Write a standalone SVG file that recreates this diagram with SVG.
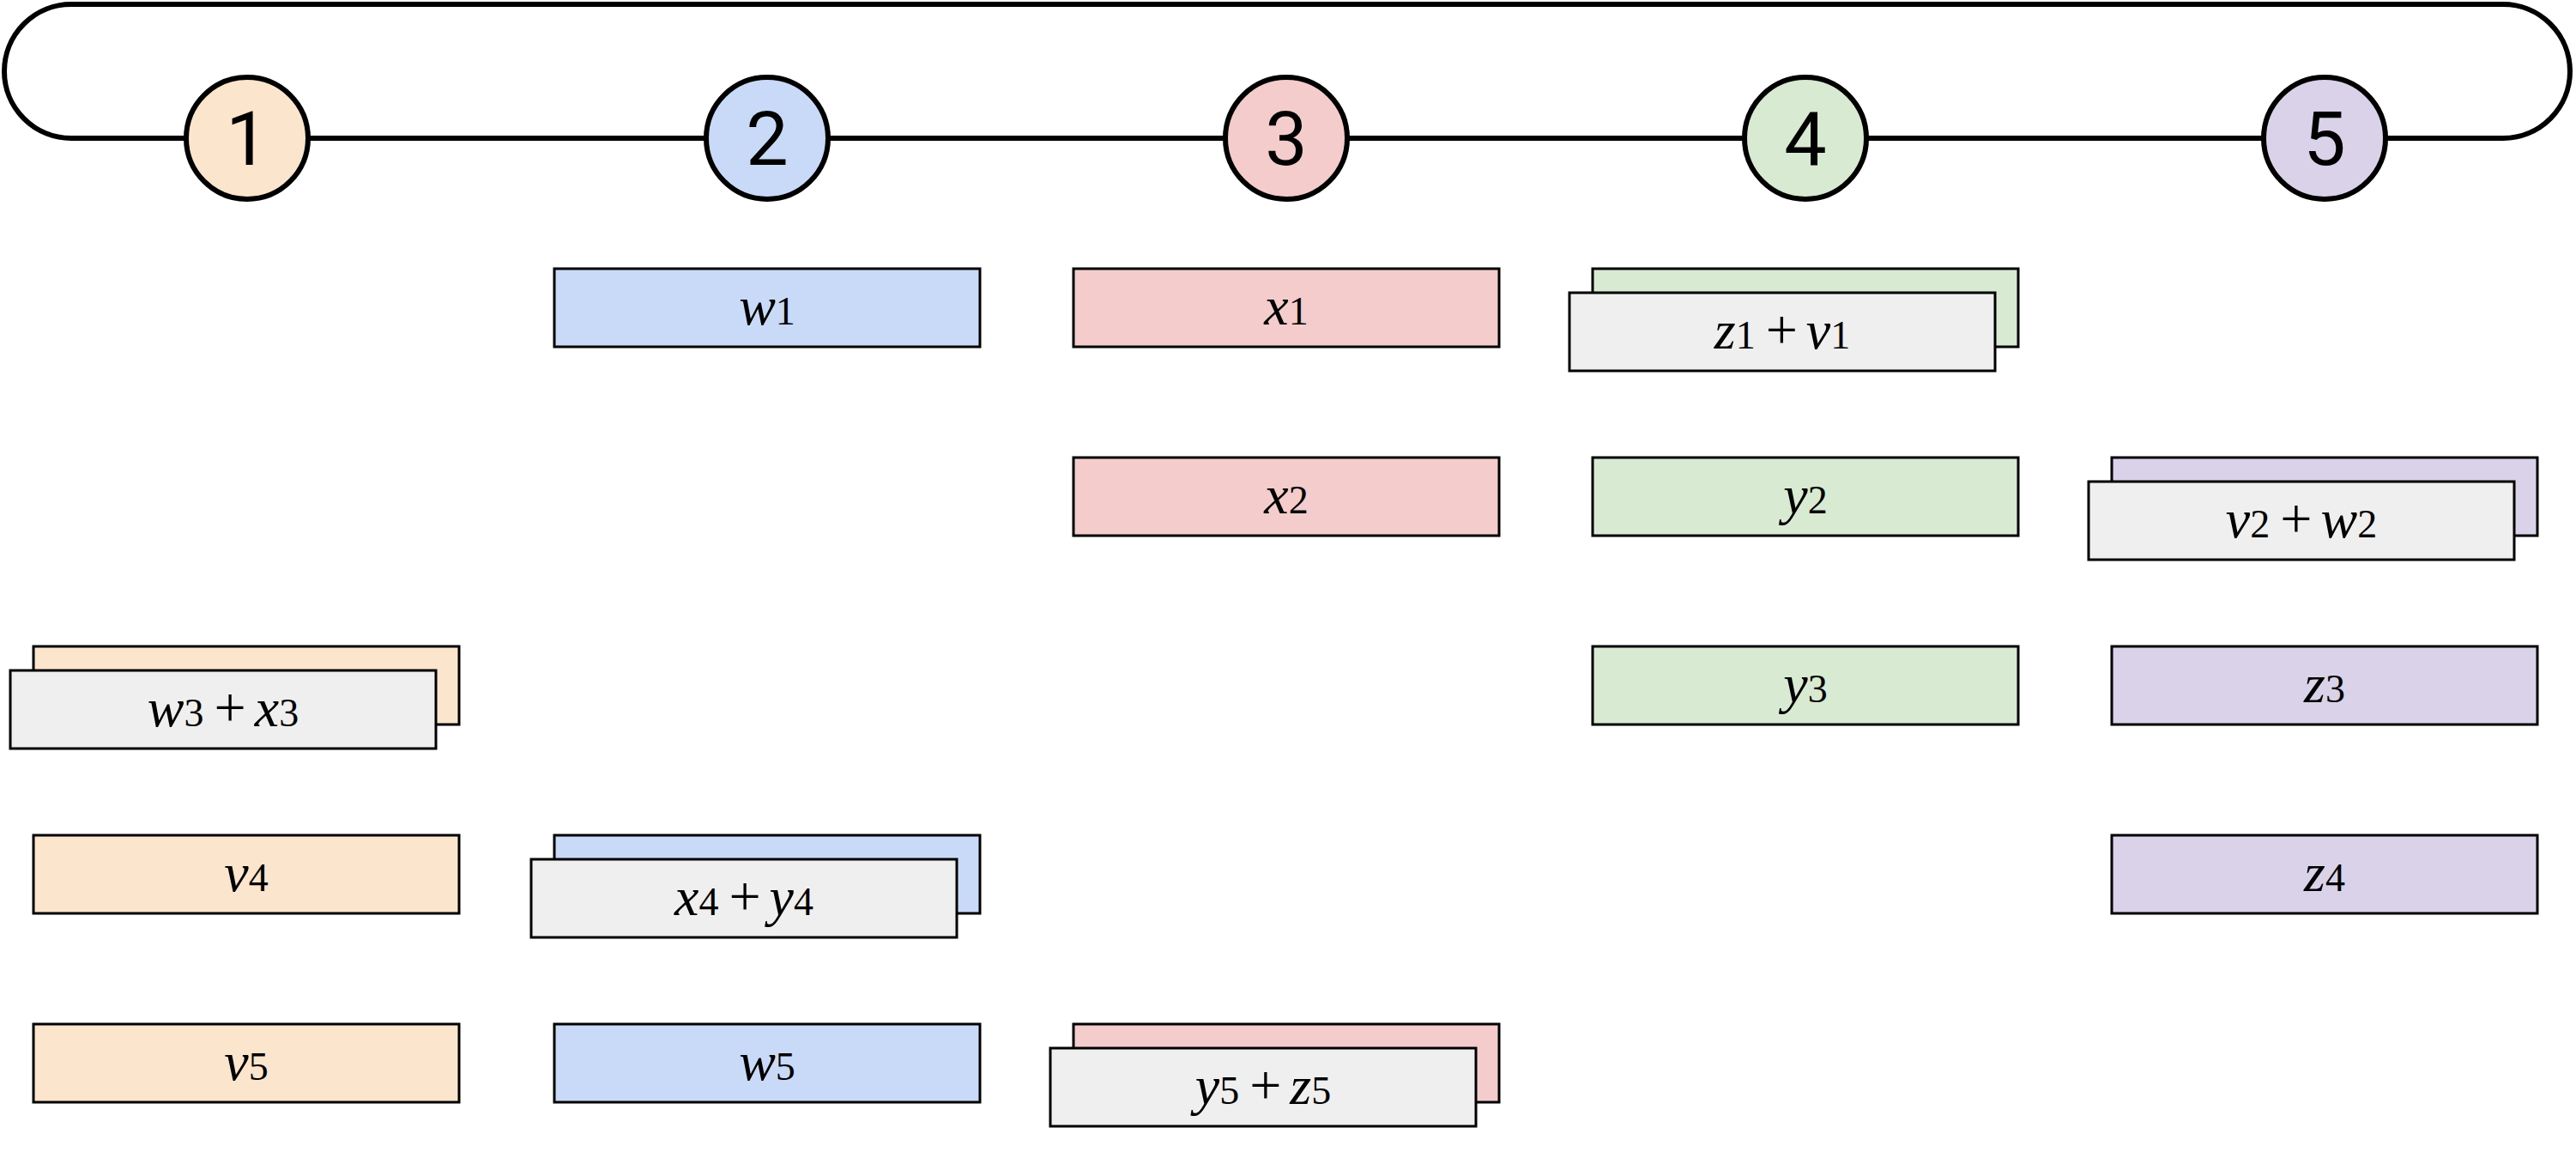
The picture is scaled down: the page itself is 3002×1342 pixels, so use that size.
<svg xmlns="http://www.w3.org/2000/svg" width="3002" height="1342" viewBox="0 0 3002 1342">
<style>
.loop{fill:none;stroke:#000;stroke-width:6}
.step circle{stroke:#000;stroke-width:6}
.step text{font-family:Roboto,"Liberation Sans",sans-serif;font-size:88px;fill:#000;text-anchor:middle}
rect{stroke:#000;stroke-width:3}
.c1{fill:#fce5cd}.c2{fill:#c9daf8}.c3{fill:#f4cccc}.c4{fill:#d9ead3}.c5{fill:#d9d2e9}.g{fill:#efefef}
.lbl{font-family:"Liberation Serif","Times New Roman",serif;fill:#000;text-anchor:middle}
.v{font-style:italic;font-size:64px}
.d{font-size:46px}
.p{font-size:66px}
</style>
<g id="connectors">
<path class="loop" d="M83,161 A78,78 0 0 1 83,5 L2917,5 A78,78 0 0 1 2917,161 Z"/>
</g>
<g id="step1" class="step"><circle cx="288" cy="161" r="71" fill="#fce5cd"/><text x="288" y="192">1</text></g>
<g id="step2" class="step"><circle cx="894" cy="161" r="71" fill="#c9daf8"/><text x="894" y="192">2</text></g>
<g id="step3" class="step"><circle cx="1499" cy="161" r="71" fill="#f4cccc"/><text x="1499" y="192">3</text></g>
<g id="step4" class="step"><circle cx="2104" cy="161" r="71" fill="#d9ead3"/><text x="2104" y="192">4</text></g>
<g id="step5" class="step"><circle cx="2709" cy="161" r="71" fill="#d9d2e9"/><text x="2709" y="192">5</text></g>

<g id="w3x3"><rect class="c1" x="39" y="753" width="496" height="91"/><rect class="g" x="12" y="781" width="496" height="91"/><text class="lbl" x="260" y="846"><tspan class="v">w</tspan><tspan class="d">3</tspan><tspan class="p" dx="12">+</tspan><tspan class="v" dx="10">x</tspan><tspan class="d">3</tspan></text></g>
<g id="v4"><rect class="c1" x="39" y="973" width="496" height="91"/><text class="lbl" x="287" y="1038"><tspan class="v">v</tspan><tspan class="d">4</tspan></text></g>
<g id="v5"><rect class="c1" x="39" y="1193" width="496" height="91"/><text class="lbl" x="287" y="1258"><tspan class="v">v</tspan><tspan class="d">5</tspan></text></g>

<g id="w1"><rect class="c2" x="646" y="313" width="496" height="91"/><text class="lbl" x="894" y="378"><tspan class="v">w</tspan><tspan class="d">1</tspan></text></g>
<g id="x4y4"><rect class="c2" x="646" y="973" width="496" height="91"/><rect class="g" x="619" y="1001" width="496" height="91"/><text class="lbl" x="867" y="1066"><tspan class="v">x</tspan><tspan class="d">4</tspan><tspan class="p" dx="12">+</tspan><tspan class="v" dx="10">y</tspan><tspan class="d">4</tspan></text></g>
<g id="w5"><rect class="c2" x="646" y="1193" width="496" height="91"/><text class="lbl" x="894" y="1258"><tspan class="v">w</tspan><tspan class="d">5</tspan></text></g>

<g id="x1"><rect class="c3" x="1251" y="313" width="496" height="91"/><text class="lbl" x="1499" y="378"><tspan class="v">x</tspan><tspan class="d">1</tspan></text></g>
<g id="x2"><rect class="c3" x="1251" y="533" width="496" height="91"/><text class="lbl" x="1499" y="598"><tspan class="v">x</tspan><tspan class="d">2</tspan></text></g>
<g id="y5z5"><rect class="c3" x="1251" y="1193" width="496" height="91"/><rect class="g" x="1224" y="1221" width="496" height="91"/><text class="lbl" x="1472" y="1286"><tspan class="v">y</tspan><tspan class="d">5</tspan><tspan class="p" dx="12">+</tspan><tspan class="v" dx="10">z</tspan><tspan class="d">5</tspan></text></g>

<g id="z1v1"><rect class="c4" x="1856" y="313" width="496" height="91"/><rect class="g" x="1829" y="341" width="496" height="91"/><text class="lbl" x="2077" y="406"><tspan class="v">z</tspan><tspan class="d">1</tspan><tspan class="p" dx="12">+</tspan><tspan class="v" dx="10">v</tspan><tspan class="d">1</tspan></text></g>
<g id="y2"><rect class="c4" x="1856" y="533" width="496" height="91"/><text class="lbl" x="2104" y="598"><tspan class="v">y</tspan><tspan class="d">2</tspan></text></g>
<g id="y3"><rect class="c4" x="1856" y="753" width="496" height="91"/><text class="lbl" x="2104" y="818"><tspan class="v">y</tspan><tspan class="d">3</tspan></text></g>

<g id="v2w2"><rect class="c5" x="2461" y="533" width="496" height="91"/><rect class="g" x="2434" y="561" width="496" height="91"/><text class="lbl" x="2682" y="626"><tspan class="v">v</tspan><tspan class="d">2</tspan><tspan class="p" dx="12">+</tspan><tspan class="v" dx="10">w</tspan><tspan class="d">2</tspan></text></g>
<g id="z3"><rect class="c5" x="2461" y="753" width="496" height="91"/><text class="lbl" x="2709" y="818"><tspan class="v">z</tspan><tspan class="d">3</tspan></text></g>
<g id="z4"><rect class="c5" x="2461" y="973" width="496" height="91"/><text class="lbl" x="2709" y="1038"><tspan class="v">z</tspan><tspan class="d">4</tspan></text></g>
</svg>
